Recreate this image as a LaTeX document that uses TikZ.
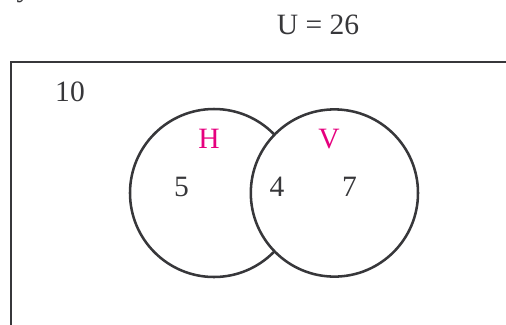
\documentclass[tikz,border=0pt]{standalone}
\usepackage{fontspec}
\setmainfont{Liberation Serif}
\usetikzlibrary{positioning}
\definecolor{inkgray}{RGB}{55,55,58}
\definecolor{setpink}{RGB}{230,0,126}

\begin{document}
\begin{tikzpicture}[
    setline/.style={draw=inkgray, line width=1.8pt},
    numtext/.style={text=inkgray, font=\fontsize{21}{25}\selectfont},
    settext/.style={text=setpink, font=\fontsize{21}{25}\selectfont}
  ]
  \useasboundingbox (0,0) rectangle (12.65,8.1);
  \clip (0,0) rectangle (12.65,8.1);

  % Cut-off letter above
  \node[numtext, anchor=base] (cutoff) at (0.6,8.2) {y};

  % Universal set
  \node[numtext] (total) at (7.95,7.47) {U = 26};
  \draw[setline, line width=2pt] (0.275,-1) rectangle (13.5,6.55);
  \node[numtext] (outside) at (1.75,5.8) {10};

  % Circles
  \draw[setline] (5.35,3.275) circle (2.1);
  \draw[setline, fill=white] (8.36,3.275) circle (2.09);

  % Set names
  \node[settext] (setH) at (5.225,4.62) {H};
  \node[settext] (setV) at (8.225,4.62) {V};

  % Region counts
  \node[numtext] (onlyH) at (4.54,3.42) {5};
  \node[numtext] (both) at (6.925,3.42) {4};
  \node[numtext] (onlyV) at (8.74,3.42) {7};
\end{tikzpicture}
\end{document}
